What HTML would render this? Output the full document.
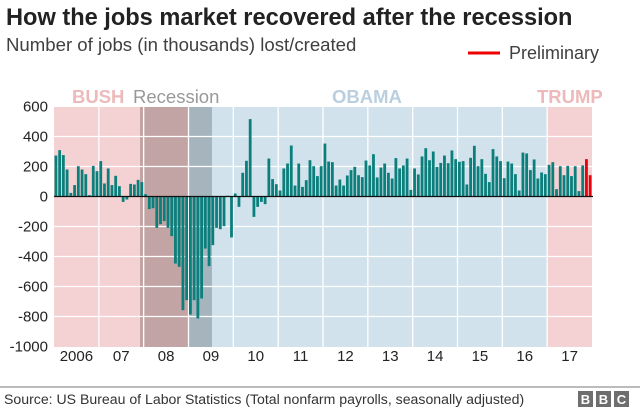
<!DOCTYPE html>
<html><head><meta charset="utf-8"><style>
body{margin:0;background:#fff;width:640px;height:410px;overflow:hidden;font-family:"Liberation Sans",Arial,sans-serif}
</style></head><body>
<svg id="s" width="640" height="410" xmlns="http://www.w3.org/2000/svg" font-family="Liberation Sans, Arial, sans-serif">
<text x="6" y="25" font-size="23.6" font-weight="bold" fill="#222">How the jobs market recovered after the recession</text>
<text x="6" y="51" font-size="18.6" fill="#404040">Number of jobs (in thousands) lost/created</text>
<line x1="468" y1="53" x2="500" y2="53" stroke="#e00" stroke-width="3"/>
<text x="509" y="59" font-size="18" fill="#404040">Preliminary</text>
<rect x="54" y="107" width="86" height="240" fill="#f4d1d2"/>
<rect x="140" y="107" width="48" height="240" fill="#c2a4a5"/>
<rect x="188" y="107" width="24" height="240" fill="#a6b4be"/>
<rect x="212" y="107" width="335" height="240" fill="#d1e2ec"/>
<rect x="547" y="107" width="45" height="240" fill="#f4d1d2"/>
<text x="72" y="103" font-size="18.5" font-weight="bold" fill="#edb9ba">BUSH</text>
<text x="133" y="103" font-size="18.5" fill="#999">Recession</text>
<text x="332" y="103" font-size="18.5" font-weight="bold" fill="#b9cfe0">OBAMA</text>
<text x="537" y="103" font-size="18.5" font-weight="bold" fill="#edb9ba">TRUMP</text>
<g id="grid" stroke="#fff" stroke-width="1.3"></g>
<g id="bars"></g>
<line x1="54" y1="196.5" x2="593" y2="196.5" stroke="#111" stroke-width="1.2"/>
<g id="lab" font-size="15" fill="#222"></g>
<line x1="0" y1="387" x2="640" y2="387" stroke="#777" stroke-width="1"/>
<text x="4" y="404" font-size="14.1" fill="#333">Source: US Bureau of Labor Statistics (Total nonfarm payrolls, seasonally adjusted)</text>
<rect x="578" y="391" width="15" height="16" fill="#6e6e6e"/><text x="585.5" y="404" font-size="13" font-weight="bold" fill="#fff" text-anchor="middle">B</text>
<rect x="596" y="391" width="15" height="16" fill="#6e6e6e"/><text x="603.5" y="404" font-size="13" font-weight="bold" fill="#fff" text-anchor="middle">B</text>
<rect x="614" y="391" width="15" height="16" fill="#6e6e6e"/><text x="621.5" y="404" font-size="13" font-weight="bold" fill="#fff" text-anchor="middle">C</text>
</svg>
<script>
var NS="http://www.w3.org/2000/svg";
function el(p,t,a,txt){var e=document.createElementNS(NS,t);for(var k in a)e.setAttribute(k,a[k]);if(txt!==undefined)e.textContent=txt;document.getElementById(p).appendChild(e);}
var d=[273,309,276,180,24,76,202,180,149,9,204,169,
236,87,187,76,138,69,-36,-20,84,80,111,96,
16,-84,-78,-209,-184,-164,-209,-264,-447,-469,-758,-691,
-787,-691,-813,-680,-347,-464,-324,-209,-218,-198,5,-273,
20,-69,158,238,516,-136,-69,-36,-51,253,116,82,
40,187,220,340,73,220,64,109,242,202,136,202,
353,233,229,73,113,73,140,176,198,142,129,240,
207,282,127,193,220,158,120,256,187,207,253,44,
187,147,267,322,242,300,198,224,273,222,307,249,
231,236,80,258,338,202,249,151,96,316,267,236,
122,233,220,149,40,293,287,176,247,120,160,149,
211,229,49,202,142,204,136,202,36,207,249,142];
var x0=54,mw=538/144,z=196.5,k=0.15;
for(var v=600;v>=-1000;v-=200){var y=z-v*k;if(v!==0&&v!==600&&v!==-1000)el("grid","line",{x1:54,x2:592,y1:y,y2:y});
el("lab","text",{x:48,y:y+5,"text-anchor":"end"},v);}
var yl=["2006","07","08","09","10","11","12","13","14","15","16","17"];
for(var i=0;i<=12;i++){var x=x0+i*mw*12;if(i>0&&i<12)el("grid","line",{x1:x,x2:x,y1:107,y2:352});
if(i<12)el("lab","text",{x:x+mw*6,y:361,"text-anchor":"middle"},yl[i]);}
for(var i=0;i<d.length;i++){var v=d[i],h=Math.abs(v)*k,x=x0+i*mw+0.5;
el("bars","rect",{x:x,y:v>=0?z-h:z,width:2.8,height:Math.max(h,0.5),fill:i>=142?"#e8000b":"#0b7f7b"});}
</script>
</body></html>
